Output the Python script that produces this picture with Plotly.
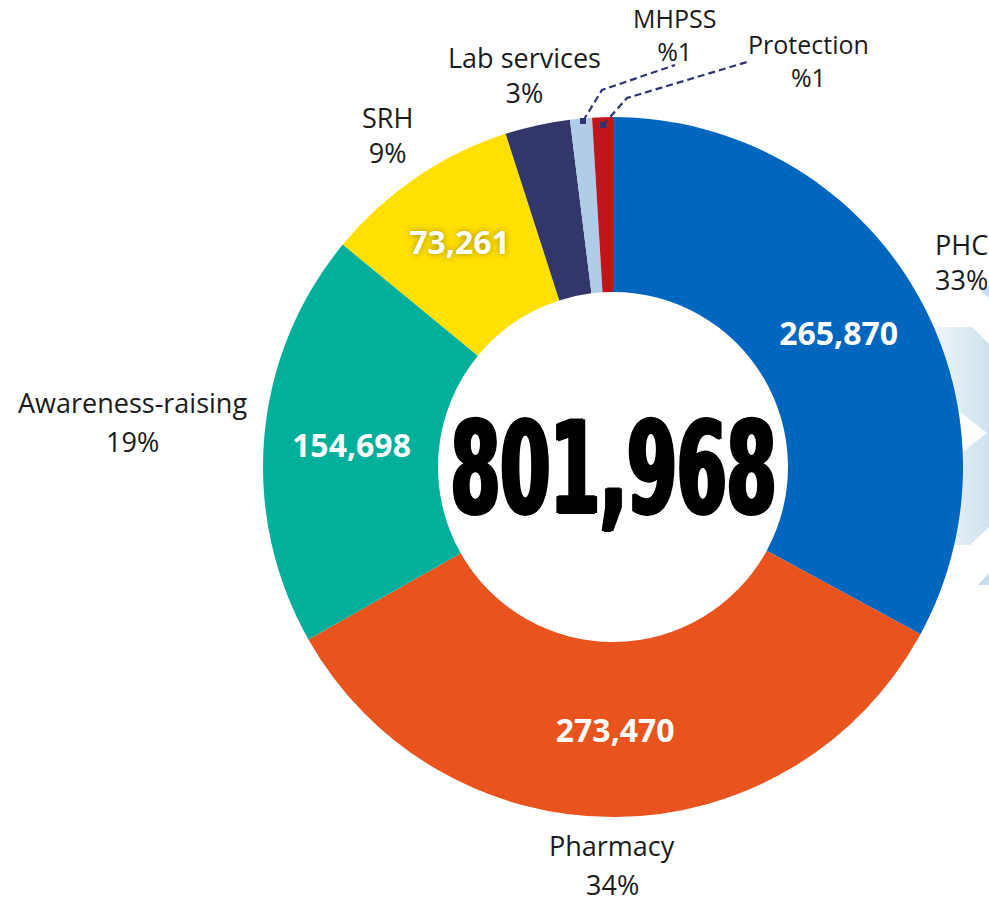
import plotly.graph_objects as go

# ---- data ----
categories = ["PHC", "Pharmacy", "Awareness-raising", "SRH", "Lab services", "MHPSS", "Protection"]
values = [265870, 273470, 154698, 73261, 24200, 8160, 7700]
pct_labels = ["33%", "34%", "19%", "9%", "3%", "%1", "%1"]
colors = ["#0066BE", "#E8531E", "#00B09B", "#FFE000", "#32366B", "#B0CCE8", "#C0151D"]
total_label = "801,968"

W, H = 989, 897
cx, cy, R = 613, 467, 350

inside_text = [f"{v:,}" if i < 4 else "" for i, v in enumerate(values)]
shadows = ["none", "none", "none", "0px 0px 6px #a08c00", "none", "none", "none"]

fig = go.Figure()

# decorative chevron band (behind pie)
band_x = [925, 972, 989, 989, 970, 925, 925, 987, 925, 925]
band_y = [327, 327, 344, 527, 545, 545, 481, 433, 385, 327]
fig.add_trace(go.Scatter(
    x=band_x, y=band_y, mode="lines", fill="toself",
    line=dict(width=0),
    fillgradient=dict(type="horizontal", colorscale=[[0, "#f4f8fb"], [1, "#cfe2ee"]]),
    hoverinfo="skip", showlegend=False))

fig.add_trace(go.Pie(
    labels=categories, values=values, hole=0.5, sort=False,
    direction="clockwise", rotation=0,
    marker=dict(colors=colors, line=dict(width=0)),
    text=inside_text, textinfo="text", textposition="inside",
    insidetextorientation="horizontal",
    textfont=dict(family="Open Sans", size=32, color="white", weight="bold", shadow=shadows),
    domain=dict(x=[(cx - R) / W, (cx + R) / W], y=[(H - cy - R) / H, (H - cy + R) / H]),
    hoverinfo="skip", showlegend=False))

# outside labels
# two separate lines (wide spacing): (x, name y, pct y)
split_pos = {
    "Pharmacy": (612, 845, 884),
    "Awareness-raising": (132, 402, 441),
}
# single two-line block: (x, centre y, anchor, size)
block_pos = {
    "PHC": (933, 262, "left", 27),
    "SRH": (387, 135, "center", 27),
    "Lab services": (524, 75, "center", 27),
    "MHPSS": (674, 34, "center", 25),
    "Protection": (808, 60, "center", 25),
}
annotations = []
for name, pct in zip(categories, pct_labels):
    if name in split_pos:
        x, y1, y2 = split_pos[name]
        for txt, yy in ((name, y1), (pct, y2)):
            annotations.append(dict(
                x=x, y=yy, xref="x", yref="y", text=txt, showarrow=False,
                xanchor="center", yanchor="middle",
                font=dict(family="Open Sans", size=27, color="#1a1a1a")))
    else:
        x, yc, anc, sz = block_pos[name]
        annotations.append(dict(
            x=x, y=yc, xref="x", yref="y", text=f"{name}<br>{pct}", showarrow=False,
            xanchor=anc, yanchor="middle", align=anc,
            font=dict(family="Open Sans", size=sz, color="#1a1a1a")))

annotations.append(dict(
    x=cx, y=cy + 1, xref="x", yref="y", text=total_label, showarrow=False,
    xanchor="center", yanchor="middle",
    font=dict(family="DejaVu Sans", size=128, color="black", weight="bold",
              shadow="2px 0 0 #000, -2px 0 0 #000, 3px 0 0 #000, -3px 0 0 #000, 0 1px 0 #000, 0 -1px 0 #000")))

shapes = [
    dict(type="path", path="M 977 287 L 989 287 L 989 298 Z", xref="x", yref="y",
         fillcolor="#c8deec", line=dict(width=0), layer="below"),
    dict(type="path", path="M 978 585 L 989 573 L 989 585 Z", xref="x", yref="y",
         fillcolor="#c8deec", line=dict(width=0), layer="below"),
    # leader lines
    dict(type="path", path="M 583 121 L 602 90 L 675 65", xref="x", yref="y",
         line=dict(color="#2d3470", width=2.2, dash="7px,4px"), layer="above"),
    dict(type="path", path="M 603 125 L 627 98 L 747 62", xref="x", yref="y",
         line=dict(color="#2d3470", width=2.2, dash="7px,4px"), layer="above"),
    dict(type="rect", x0=580, x1=586, y0=118, y1=124, xref="x", yref="y",
         fillcolor="#2d3470", line=dict(width=0), layer="above"),
    dict(type="rect", x0=600, x1=606, y0=122, y1=128, xref="x", yref="y",
         fillcolor="#2d3470", line=dict(width=0), layer="above"),
]

fig.update_layout(
    width=W, height=H, margin=dict(l=0, r=0, t=0, b=0),
    paper_bgcolor="white", plot_bgcolor="rgba(0,0,0,0)",
    xaxis=dict(range=[0, W], visible=False, fixedrange=True),
    yaxis=dict(range=[H, 0], visible=False, fixedrange=True),
    annotations=annotations, shapes=shapes, showlegend=False,
)

# remove default page margin; condense the big centre number horizontally (kept as real text)
post_script = """
document.body.style.margin = '0';
document.documentElement.style.overflow = 'hidden';
var gd = document.getElementById('{plot_id}');
var target = 'TOTAL_LABEL';
gd.querySelectorAll('text.annotation-text').forEach(function(t){
  if (t.textContent === target) {
    var b = t.getBBox();
    var sx = 326 / b.width;
    var c = b.x + b.width / 2;
    var tr = t.getAttribute('transform') || '';
    t.setAttribute('transform', tr + ' translate(' + c + ',0) scale(' + sx + ',1) translate(' + (-c) + ',0)');
  }
});
""".replace("TOTAL_LABEL", total_label)

fig.write_html("out.html", post_script=post_script, config={"displayModeBar": False})
